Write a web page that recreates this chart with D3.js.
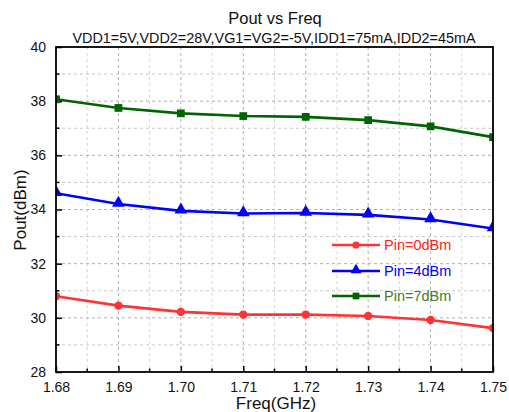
<!DOCTYPE html>
<html><head><meta charset="utf-8">
<script src="https://cdn.jsdelivr.net/npm/d3@7"></script>
<style>body{margin:0;background:#fff}svg{display:block;font-family:Arial,"Liberation Sans",sans-serif}</style>
</head><body><svg id="c" width="509" height="412"></svg>
<script>
const freqs = [1.68, 1.69, 1.70, 1.71, 1.72, 1.73, 1.74, 1.75];
const pin0 = [30.8, 30.45, 30.22, 30.12, 30.12, 30.07, 29.92, 29.62];
const pin4 = [34.6, 34.2, 33.95, 33.85, 33.87, 33.8, 33.63, 33.3];
const pin7 = [38.07, 37.75, 37.55, 37.45, 37.42, 37.3, 37.07, 36.67];
const seriesNames = ["Pin=0dBm", "Pin=4dBm", "Pin=7dBm"];
const xTicks = [1.68, 1.69, 1.70, 1.71, 1.72, 1.73, 1.74, 1.75];
const yTicks = [28, 30, 32, 34, 36, 38, 40];

const svg = d3.select("#c");
const L = 56, R = 493, T = 47, B = 372;
const x = d3.scaleLinear().domain([1.68, 1.75]).range([L, R]);
const y = d3.scaleLinear().domain([28, 40]).range([B, T]);

// grid
const xMinor = d3.range(0, 15).map(i => 1.68 + i * 0.005);
const yMinor = d3.range(28, 41, 1);
const g = svg.append("g");
g.selectAll(".gxm").data(xMinor.filter((d, i) => i % 2 === 1)).enter().append("line")
  .attr("x1", d => x(d)).attr("x2", d => x(d)).attr("y1", T).attr("y2", B)
  .attr("stroke", "#d4d4d4").attr("stroke-width", 1).attr("stroke-dasharray", "3,3");
g.selectAll(".gym").data(yMinor.filter(d => d % 2 === 1)).enter().append("line")
  .attr("x1", L).attr("x2", R).attr("y1", d => y(d)).attr("y2", d => y(d))
  .attr("stroke", "#c8c8c8").attr("stroke-width", 1).attr("stroke-dasharray", "3,3");
g.selectAll(".gx").data(xTicks.slice(1, -1)).enter().append("line")
  .attr("x1", d => x(d)).attr("x2", d => x(d)).attr("y1", T).attr("y2", B)
  .attr("stroke", "#b0b0b0").attr("stroke-width", 1).attr("stroke-dasharray", "3,3");
g.selectAll(".gy").data(yTicks.slice(1, -1)).enter().append("line")
  .attr("x1", L).attr("x2", R).attr("y1", d => y(d)).attr("y2", d => y(d))
  .attr("stroke", "#b0b0b0").attr("stroke-width", 1).attr("stroke-dasharray", "3,3");

// axes (ticks inward)
const xAxis = d3.axisBottom(x).tickValues(xTicks).tickFormat(d3.format(".2f")).tickSizeInner(-6).tickSizeOuter(0).tickPadding(10);
const xAx = svg.append("g").attr("transform", `translate(0,${B})`).call(xAxis);
const yAxis = d3.axisLeft(y).tickValues(yTicks).tickFormat(d3.format("d")).tickSizeInner(-6).tickSizeOuter(0).tickPadding(10);
const yAx = svg.append("g").attr("transform", `translate(${L},0)`).call(yAxis);
[xAx, yAx].forEach(a => {
  a.select(".domain").remove();
  a.selectAll("text").attr("font-size", 14).attr("fill", "#111").attr("font-family", "Arial, 'Liberation Sans', sans-serif");
  a.selectAll("line").attr("stroke", "#000").attr("stroke-width", 1.5);
});
// minor ticks
svg.selectAll(".mx").data(xMinor.filter((d, i) => i % 2 === 1)).enter().append("line")
  .attr("x1", d => x(d)).attr("x2", d => x(d)).attr("y1", B).attr("y2", B - 3.5)
  .attr("stroke", "#000").attr("stroke-width", 1.5);
svg.selectAll(".my").data(yMinor.filter(d => d % 2 === 1)).enter().append("line")
  .attr("x1", L).attr("x2", L + 3.5).attr("y1", d => y(d)).attr("y2", d => y(d))
  .attr("stroke", "#000").attr("stroke-width", 1.5);

// clip
svg.append("clipPath").attr("id", "clip").append("rect").attr("x", L).attr("y", T).attr("width", R - L).attr("height", B - T);

const colors = ["#ff3333", "#0000ff", "#006400"];
const textColors = ["#ff2020", "#0000ff", "#4a7a26"];
const data = [pin0, pin4, pin7];
const line = d3.line().x((d, i) => x(freqs[i])).y(d => y(d));
const plot = svg.append("g").attr("clip-path", "url(#clip)");
const sym = [d3.symbolCircle, d3.symbolTriangle, d3.symbolSquare];
const symSize = [55, 70, 60];
data.forEach((vals, k) => {
  plot.append("path").datum(vals).attr("d", line).attr("fill", "none")
    .attr("stroke", colors[k]).attr("stroke-width", 2.6);
  plot.selectAll(".m" + k).data(vals).enter().append("path")
    .attr("d", d3.symbol().type(sym[k]).size(symSize[k]))
    .attr("transform", (d, i) => `translate(${x(freqs[i])},${y(d) + (k === 1 ? -1 : 0)})`)
    .attr("fill", colors[k]);
});

// frame
svg.append("rect").attr("x", L).attr("y", T).attr("width", R - L).attr("height", B - T)
  .attr("fill", "none").attr("stroke", "#000").attr("stroke-width", 1.8);

// legend
const legY = [245, 271, 296];
seriesNames.forEach((n, k) => {
  const lg = svg.append("g");
  lg.append("line").attr("x1", 332).attr("x2", 380).attr("y1", legY[k]).attr("y2", legY[k])
    .attr("stroke", colors[k]).attr("stroke-width", 2.4);
  lg.append("path").attr("d", d3.symbol().type(sym[k]).size(symSize[k] * 0.75))
    .attr("transform", `translate(356,${legY[k] + (k === 1 ? -1 : 0)})`).attr("fill", colors[k]);
  lg.append("text").attr("x", 384).attr("y", legY[k] + 5).attr("font-size", 14.5)
    .attr("fill", textColors[k]).text(n);
});

// titles
svg.append("text").attr("x", 275).attr("y", 24).attr("text-anchor", "middle").attr("font-size", 16.5).attr("fill", "#111").text("Pout vs Freq");
svg.append("text").attr("x", 274).attr("y", 43).attr("text-anchor", "middle").attr("font-size", 14.4).attr("fill", "#111").text("VDD1=5V,VDD2=28V,VG1=VG2=-5V,IDD1=75mA,IDD2=45mA");
svg.append("text").attr("x", 276).attr("y", 409).attr("text-anchor", "middle").attr("font-size", 17).attr("fill", "#111").text("Freq(GHz)");
svg.append("text").attr("transform", "translate(26,210) rotate(-90)").attr("text-anchor", "middle").attr("font-size", 17).attr("fill", "#111").text("Pout(dBm)");
</script></body></html>
